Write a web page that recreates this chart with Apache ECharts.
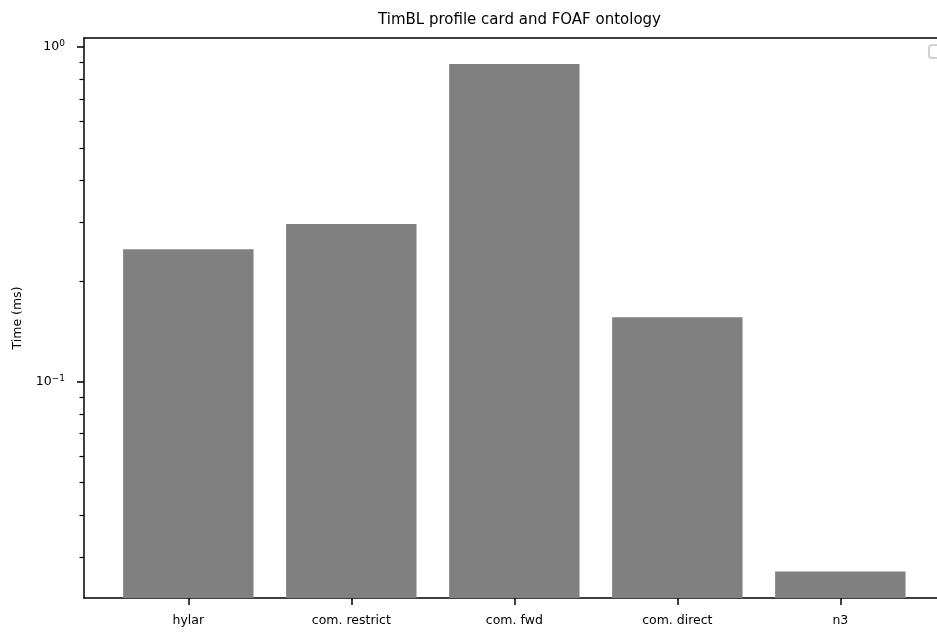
<!DOCTYPE html>
<html>
<head>
<meta charset="utf-8">
<script src="https://cdn.jsdelivr.net/npm/echarts@6/dist/echarts.min.js"></script>
<style>
html,body{margin:0;padding:0;background:#fff;}
#chart{width:937px;height:635px;}
</style>
</head>
<body>
<div id="chart"></div>
<script>
// ---- data ----
const categories = ['hylar', 'com. restrict', 'com. fwd', 'com. direct', 'n3'];
const times = [0.249, 0.296, 0.89, 0.156, 0.0271];
const yMajorTicks = [0.1, 1];
const yMinorTicks = [0.03, 0.04, 0.05, 0.06, 0.07, 0.08, 0.09, 0.2, 0.3, 0.4, 0.5, 0.6, 0.7, 0.8, 0.9];
const yRange = [0.0226, 1.064];
const titleText = 'TimBL profile card and FOAF ontology';
const yAxisName = 'Time (ms)';

const FONT = 'DejaVu Sans';
const chart = echarts.init(document.getElementById('chart'), null, {renderer: 'canvas'});

const frameLeft = 84, frameTop = 38, frameWidth = 861, frameHeight = 560;
const catWidth = 163;
const barsLeft = frameLeft + 0.14 * catWidth;

function supLabel(v) {
  const e = Math.round(Math.log10(v));
  const s = e < 0 ? '\u2212' + Math.abs(e) : String(e);
  return '10{sup|' + s + '}';
}

const barData = categories.map((c, i) => [c, times[i]]);

const option = {
  animation: false,
  backgroundColor: '#ffffff',
  title: {
    text: titleText,
    left: frameLeft + frameWidth / 2,
    textAlign: 'center',
    top: 8,
    textStyle: {fontFamily: FONT, fontSize: 15, fontWeight: 'normal', color: '#000'}
  },
  grid: [
    {left: frameLeft, top: frameTop, width: frameWidth, height: frameHeight, containLabel: false},
    {left: barsLeft, top: frameTop, width: catWidth * categories.length, height: frameHeight, containLabel: false}
  ],
  xAxis: [
    {gridIndex: 0, type: 'value', min: 0, max: 1, position: 'bottom',
     axisLine: {show: true, lineStyle: {color: '#000', width: 1.5}},
     axisTick: {show: false}, axisLabel: {show: false}, splitLine: {show: false}},
    {gridIndex: 0, type: 'value', min: 0, max: 1, position: 'top',
     axisLine: {show: true, lineStyle: {color: '#000', width: 1.5}},
     axisTick: {show: false}, axisLabel: {show: false}, splitLine: {show: false}},
    {gridIndex: 1, type: 'category', data: categories, boundaryGap: true, position: 'bottom',
     axisLine: {show: false},
     axisTick: {show: true, alignWithLabel: true, length: 7, lineStyle: {color: '#000', width: 1.5}},
     axisLabel: {show: true, interval: 0, margin: 16, color: '#000', fontFamily: FONT, fontSize: 12.5},
     splitLine: {show: false}}
  ],
  yAxis: [
    {gridIndex: 0, type: 'log', min: yRange[0], max: yRange[1], position: 'left',
     name: yAxisName, nameLocation: 'middle', nameGap: 60,
     nameTextStyle: {fontFamily: FONT, fontSize: 12.5, color: '#000'},
     axisLine: {show: true, lineStyle: {color: '#000', width: 1.5}},
     axisTick: {show: true, length: 7, customValues: yMajorTicks, lineStyle: {color: '#000', width: 1.5}},
     axisLabel: {show: true, customValues: yMajorTicks, margin: 19, color: '#000',
       fontFamily: FONT, fontSize: 12.5, formatter: supLabel,
       rich: {sup: {fontFamily: FONT, fontSize: 9, color: '#000', padding: [0, 0, 7, 0]}}},
     splitLine: {show: false}, minorTick: {show: false}},
    {gridIndex: 0, type: 'log', min: yRange[0], max: yRange[1], position: 'left',
     axisLine: {show: false},
     axisTick: {show: true, length: 4.5, customValues: yMinorTicks, lineStyle: {color: '#000', width: 1.2}},
     axisLabel: {show: false}, splitLine: {show: false}},
    {gridIndex: 1, type: 'log', min: yRange[0], max: yRange[1],
     axisLine: {show: false}, axisTick: {show: false}, axisLabel: {show: false}, splitLine: {show: false}}
  ],
  graphic: [
    {type: 'rect', left: 928, top: 44, shape: {width: 24, height: 13, r: 3},
     style: {fill: '#fff', stroke: '#d0d0d0', lineWidth: 2}}
  ],
  series: [
    {type: 'custom', xAxisIndex: 2, yAxisIndex: 2, data: barData,
     encode: {x: 0, y: 1},
     renderItem: function (params, api) {
       const cat = api.value(0);
       const top = api.coord([cat, api.value(1)]);
       const base = api.coord([cat, yRange[0]]);
       const w = api.size([1, 0])[0] * 0.8;
       return {
         type: 'rect',
         shape: {x: top[0] - w / 2, y: top[1], width: w, height: base[1] - top[1]},
         style: {fill: '#808080'}
       };
     }}
  ]
};
chart.setOption(option);
</script>
</body>
</html>
